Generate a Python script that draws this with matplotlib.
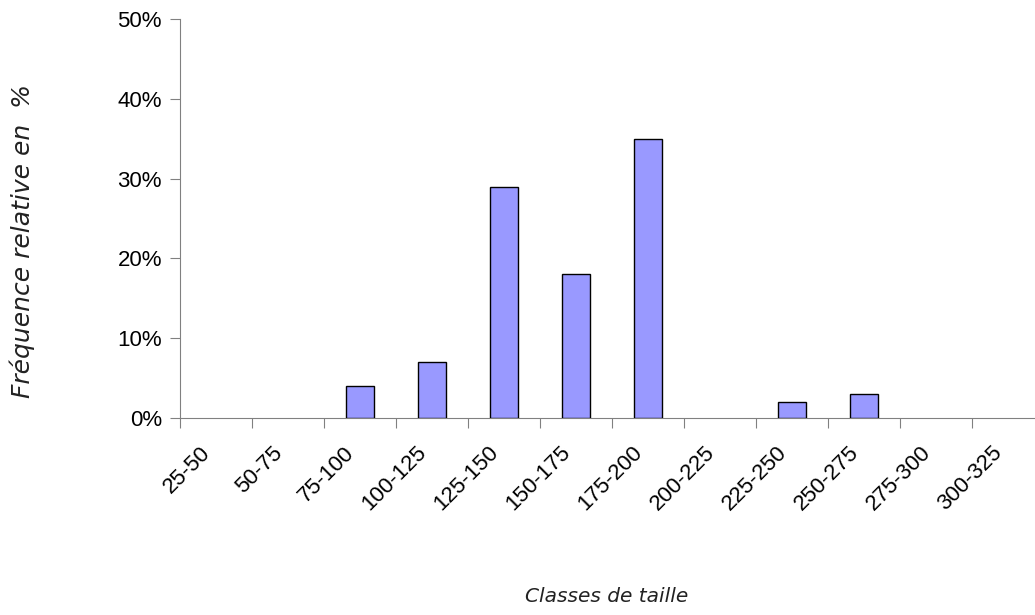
import matplotlib
matplotlib.use("Agg")
import matplotlib.pyplot as plt
import matplotlib.transforms as mtransforms
import numpy as np

# classes de taille et fréquences relatives (%)
classes = ["25-50", "50-75", "75-100", "100-125", "125-150", "150-175",
           "175-200", "200-225", "225-250", "250-275", "275-300", "300-325"]
freq = [0, 0, 4, 7, 29, 18, 35, 0, 2, 3, 0, 0]

fig = plt.figure(figsize=(10.35, 6.15), dpi=100)
# axes runs a bit past the right edge, like the original
ax = fig.add_axes([180/1035, 1 - 418/615, 864/1035, 399/615])

x = np.arange(len(classes))
vals = np.array(freq)
mask = vals > 0
ax.bar(x[mask], vals[mask], width=0.4, color="#9999ff", edgecolor="black", linewidth=1.0, zorder=3)

ax.set_xlim(-0.5, len(classes) - 0.5)
ax.set_ylim(0, 50)
ax.set_yticks(range(0, 51, 10))
ax.set_yticklabels([str(v) + "%" for v in range(0, 51, 10)],
                   fontfamily="Liberation Sans", fontsize=16)

# ticks between categories, labels at centers
ax.set_xticks(np.arange(len(classes) + 1) - 0.5)
ax.set_xticklabels([])
ax.set_xticks(x, minor=True)
ax.set_xticklabels(classes, minor=True, rotation=45, ha="right",
                   rotation_mode="anchor", fontfamily="Liberation Sans", fontsize=16)
ax.tick_params(axis="x", which="minor", length=0, pad=16)
ax.tick_params(axis="x", which="major", length=7, direction="out", color="#808080")
ax.tick_params(axis="y", length=7, direction="out", color="#808080", pad=6)

# labels sit a little left of the category centre
shift = mtransforms.ScaledTranslation(-0.16, -0.02, fig.dpi_scale_trans)
for lab in ax.get_xticklabels(minor=True):
    lab.set_transform(lab.get_transform() + shift)

for s in ["top", "right"]:
    ax.spines[s].set_visible(False)
ax.spines["left"].set_color("#808080")
ax.spines["bottom"].set_color("#808080")

fig.text(22/1035, 1 - 241/615, "Fréquence relative en  %", rotation=90,
         ha="center", va="center", fontsize=18, style="italic", fontfamily="DejaVu Sans", color="#222222")
fig.text(607/1035, 1 - 597/615, "Classes de taille",
         ha="center", va="center", fontsize=14.5, style="italic", fontfamily="DejaVu Sans", color="#222222")

fig.savefig("out.png", dpi=100)
